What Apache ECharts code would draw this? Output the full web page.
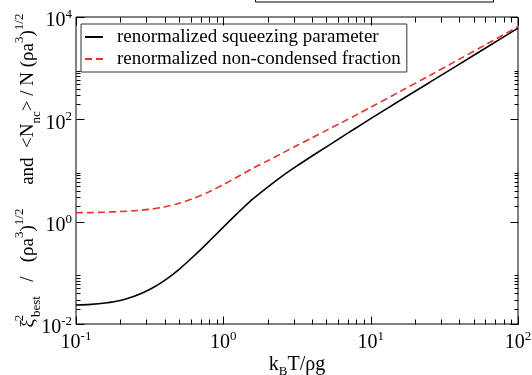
<!DOCTYPE html>
<html>
<head>
<meta charset="utf-8">
<script src="https://cdn.jsdelivr.net/npm/echarts@6/dist/echarts.min.js"></script>
<style>
  html, body { margin: 0; padding: 0; background: #fff; }
  #chart { width: 532px; height: 375px; }
</style>
</head>
<body>
<div id="chart"></div>
<script>
// k_B T / rho g sample points
const temps = [0.1, 0.126, 0.158, 0.2, 0.251, 0.316, 0.398, 0.501, 0.631, 0.794, 1, 1.26, 1.58, 2, 2.51, 3.16, 3.98, 5.01, 6.31, 7.94, 10, 15.8, 25.1, 39.8, 63.1, 100]
const squeezing = [0.0235, 0.0242, 0.0258, 0.0289, 0.0352, 0.0472, 0.0702, 0.117, 0.213, 0.404, 0.783, 1.5, 2.75, 4.74, 7.78, 12.3, 19.0, 29.0, 44.5, 67.7, 103, 233, 526, 1189, 2685, 6067]
const nonCondensed = [1.496, 1.505, 1.531, 1.576, 1.641, 1.742, 1.936, 2.288, 2.864, 3.797, 5.3, 7.62, 10.95, 15.5, 21.8, 30.7, 43.2, 60.8, 85.7, 121, 172, 349, 716, 1483, 3097, 6471]

const seriesNames = ['renormalized squeezing parameter', 'renormalized non-condensed fraction']

const xMajorTicks = [0.1, 1, 10, 100]
const xMinorTicks = [0.2, 0.3, 0.4, 0.5, 0.6, 0.7, 0.8, 0.9, 2, 3, 4, 5, 6, 7, 8, 9, 20, 30, 40, 50, 60, 70, 80, 90]
const yMajorTicks = [0.01, 1, 100, 10000]
const yMinorTicks = [0.02, 0.03, 0.04, 0.05, 0.06, 0.07, 0.08, 0.09, 2, 3, 4, 5, 6, 7, 8, 9, 200, 300, 400, 500, 600, 700, 800, 900]

const xMin = 0.1, xMax = 100, yMin = 0.01, yMax = 10000
const FONT = 'Liberation Serif'

const isTick = (list, v) => list.some(t => Math.abs(t - v) / t < 1e-6)
const powLabel = list => v => isTick(list, v) ? '{b|10}{s|' + Math.round(Math.log10(v)) + '}' : ''

const labelRich = {
  b: { fontFamily: FONT, fontSize: 20, color: '#000', lineHeight: 26 },
  s: { fontFamily: FONT, fontSize: 13, color: '#000', lineHeight: 12, verticalAlign: 'top' }
}

// tick marks on all four sides, positioned through the axes
const tickSeries = (values, dim, len) => ({
  type: 'custom',
  silent: true,
  clip: false,
  z: 5,
  data: values.map(v => (dim === 'x' ? [v, yMin] : [xMin, v])),
  renderItem: (params, api) => {
    const v = dim === 'x' ? api.value(0) : api.value(1)
    const a = dim === 'x' ? api.coord([v, yMin]) : api.coord([xMin, v])
    const b = dim === 'x' ? api.coord([v, yMax]) : api.coord([xMax, v])
    const style = { stroke: '#000', lineWidth: 1 }
    const lines = dim === 'x'
      ? [[a[0], a[1], a[0], a[1] - len], [b[0], b[1], b[0], b[1] + len]]
      : [[a[0], a[1], a[0] + len, a[1]], [b[0], b[1], b[0] - len, b[1]]]
    return {
      type: 'group',
      children: lines.map(l => ({
        type: 'line',
        shape: { x1: Math.round(l[0]) + 0.5, y1: Math.round(l[1]) + 0.5, x2: Math.round(l[2]) + 0.5, y2: Math.round(l[3]) + 0.5 },
        style
      }))
    }
  }
})

const chart = echarts.init(document.getElementById('chart'))
chart.setOption({
  animation: false,
  backgroundColor: '#fff',
  grid: {
    left: 76, right: 14, top: 17, bottom: 51,
    outerBoundsMode: 'none',
    show: true, borderColor: '#000', borderWidth: 1
  },
  graphic: [
    { type: 'rect', shape: { x: 255.5, y: -6, width: 238, height: 8 }, style: { fill: '#fff', stroke: '#000', lineWidth: 1 } }
  ],
  legend: {
    data: seriesNames,
    orient: 'vertical',
    left: 81,
    top: 24,
    padding: [3, 6, 3, 3],
    itemGap: 2,
    itemWidth: 18,
    itemHeight: 10,
    itemStyle: { opacity: 0 },
    backgroundColor: '#fff',
    borderColor: '#333',
    borderWidth: 1,
    textStyle: { fontFamily: FONT, fontSize: 19, color: '#000', lineHeight: 20, padding: [0, 0, 0, 9] }
  },
  xAxis: {
    type: 'log',
    logBase: 10,
    min: xMin,
    max: xMax,
    name: '{b|k}{sb|B}{b|T/ρg}',
    nameLocation: 'middle',
    nameMoveOverlap: false,
    nameGap: 28,
    nameTextStyle: {
      rich: {
        b: { fontFamily: FONT, fontSize: 20, color: '#000', lineHeight: 26 },
        sb: { fontFamily: FONT, fontSize: 13, color: '#000', lineHeight: 12, verticalAlign: 'bottom' }
      }
    },
    axisLine: { show: false },
    axisTick: { show: false },
    splitLine: { show: false },
    axisLabel: { margin: 6, formatter: powLabel(xMajorTicks), rich: labelRich }
  },
  yAxis: {
    type: 'log',
    logBase: 10,
    min: yMin,
    max: yMax,
    name: '{b|ξ}{sp2|2}{sb|best}{b|   /   (ρa}{sp|3}{b|)}{sp|1/2}{b|     and  <N}{sb|nc}{b|> / N (ρa}{sp|3}{b|)}{sp|1/2}',
    nameLocation: 'middle',
    nameMoveOverlap: false,
    nameGap: 33,
    nameTextStyle: {
      rich: {
        b: { fontFamily: FONT, fontSize: 19, color: '#000', lineHeight: 30 },
        sp: { fontFamily: FONT, fontSize: 13, color: '#000', lineHeight: 12, verticalAlign: 'top' },
        sp2: { fontFamily: FONT, fontSize: 13, color: '#000', lineHeight: 12, verticalAlign: 'top', width: 2 },
        sb: { fontFamily: FONT, fontSize: 13, color: '#000', lineHeight: 12, verticalAlign: 'bottom' }
      }
    },
    axisLine: { show: false },
    axisTick: { show: false },
    splitLine: { show: false },
    axisLabel: { margin: 4, padding: [8, 0, 0, 0], formatter: powLabel(yMajorTicks), rich: labelRich }
  },
  series: [
    {
      name: seriesNames[0],
      type: 'line',
      data: temps.map((t, i) => [t, squeezing[i]]),
      symbol: 'none',
      smooth: 0.3,
      lineStyle: { color: '#000', width: 1.6 },
      itemStyle: { color: '#000' },
      z: 3
    },
    {
      name: seriesNames[1],
      type: 'line',
      data: temps.map((t, i) => [t, nonCondensed[i]]),
      symbol: 'none',
      smooth: 0.3,
      lineStyle: { color: '#e3322b', width: 1.6, type: [7, 4] },
      itemStyle: { color: '#e3322b' },
      z: 4
    },
    tickSeries(xMajorTicks, 'x', 8),
    tickSeries(xMinorTicks, 'x', 5),
    tickSeries(yMajorTicks, 'y', 8),
    tickSeries(yMinorTicks, 'y', 4)
  ]
})
</script>
</body>
</html>
